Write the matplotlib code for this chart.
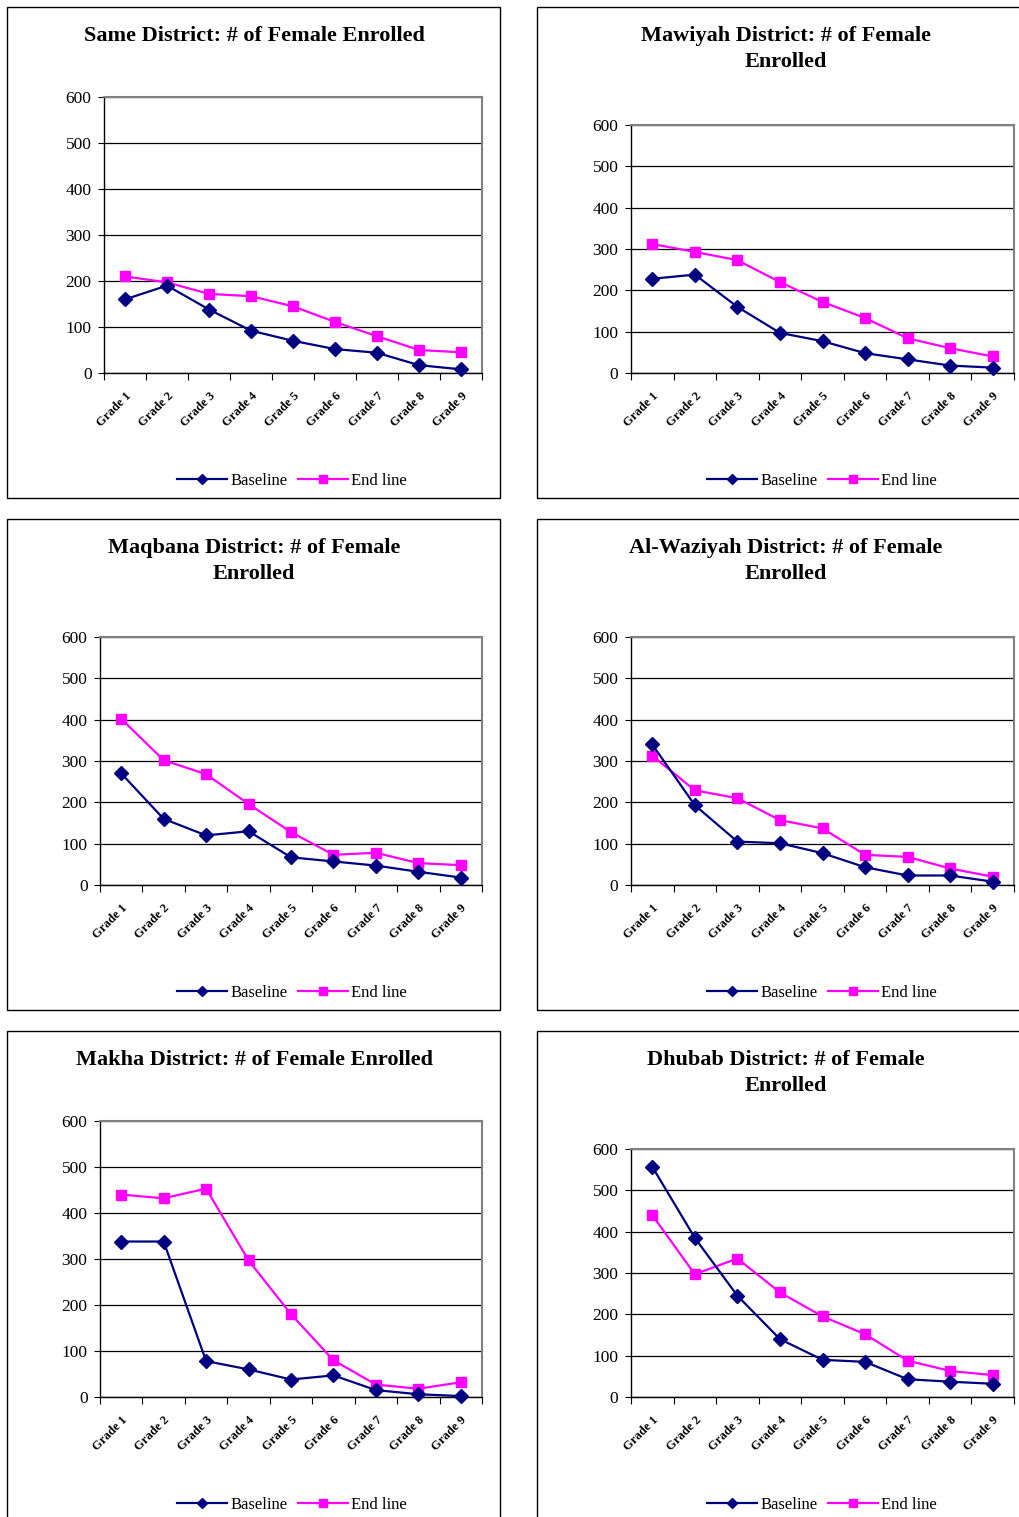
import matplotlib
matplotlib.use("Agg")
import matplotlib.pyplot as plt
from matplotlib.patches import Rectangle
import numpy as np

plt.rcParams['font.family'] = ['Liberation Serif', 'DejaVu Serif']

categories = ["Grade 1", "Grade 2", "Grade 3", "Grade 4", "Grade 5",
              "Grade 6", "Grade 7", "Grade 8", "Grade 9"]

titles = [
    "Same District: # of Female Enrolled",
    "Mawiyah District: # of Female\nEnrolled",
    "Maqbana District: # of Female\nEnrolled",
    "Al-Waziyah District: # of Female\nEnrolled",
    "Makha District: # of Female Enrolled",
    "Dhubab District: # of Female\nEnrolled",
]

same_base = [160, 190, 138, 92, 70, 52, 44, 17, 8]
same_end = [210, 197, 172, 167, 145, 111, 80, 50, 45]
mawiyah_base = [228, 238, 160, 97, 77, 48, 33, 18, 13]
mawiyah_end = [312, 293, 273, 220, 172, 133, 84, 60, 40]
maqbana_base = [270, 160, 120, 130, 67, 57, 47, 32, 18]
maqbana_end = [402, 302, 268, 196, 128, 73, 78, 53, 48]
waziyah_base = [340, 193, 105, 101, 77, 43, 23, 23, 8]
waziyah_end = [313, 229, 210, 157, 137, 73, 68, 40, 20]
makha_base = [338, 338, 78, 60, 38, 47, 15, 6, 2]
makha_end = [440, 432, 453, 297, 180, 80, 27, 18, 32]
dhubab_base = [557, 385, 245, 140, 90, 85, 43, 37, 32]
dhubab_end = [440, 297, 335, 253, 195, 152, 88, 63, 53]

series = [
    (same_base, same_end),
    (mawiyah_base, mawiyah_end),
    (maqbana_base, maqbana_end),
    (waziyah_base, waziyah_end),
    (makha_base, makha_end),
    (dhubab_base, dhubab_end),
]

W, H = 1019, 1517
fig = plt.figure(figsize=(W / 100, H / 100), dpi=100)
fig.patch.set_facecolor('white')

# panel boxes (x0, y0, x1, y1) in pixels
panels = [
    (7, 7, 500, 498),
    (537, 7, 1030, 498),
    (7, 519, 500, 1010),
    (537, 519, 1030, 1010),
    (7, 1031, 500, 1530),
    (537, 1031, 1030, 1530),
]
# plot areas (x0, y0, x1, y1)
plots = [
    (104, 97, 482, 373),
    (631, 125, 1014, 373),
    (100, 637, 482, 885),
    (631, 637, 1014, 885),
    (100, 1121, 482, 1397),
    (631, 1149, 1014, 1397),
]

def fx(x):
    return x / W

def fy(y):
    return 1 - y / H

for i in range(6):
    px0, py0, px1, py1 = panels[i]
    fig.patches.append(Rectangle((fx(px0), fy(py1)), fx(px1 - px0), (py1 - py0) / H,
                                 transform=fig.transFigure, fill=False,
                                 edgecolor='black', linewidth=1.0, zorder=0))
    tx = 254 if i % 2 == 0 else 786
    fig.text(fx(tx), fy(py0 + 19), titles[i],
             ha='center', va='top', fontsize=16, fontweight='bold',
             linespacing=1.4)

    x0, y0, x1, y1 = plots[i]
    ax = fig.add_axes([fx(x0), fy(y1), (x1 - x0) / W, (y1 - y0) / H])
    base, end = series[i]
    xs = np.arange(len(categories)) + 0.5
    ax.plot(xs, base, color='#000080', marker='D', markersize=7, linewidth=1.6,
            label='Baseline', clip_on=False, zorder=3)
    ax.plot(xs, end, color='#FF00FF', marker='s', markersize=7.5, linewidth=1.6,
            label='End line', clip_on=False, zorder=2)
    ax.set_xlim(0, 9)
    ax.set_ylim(0, 600)
    ax.set_yticks(range(0, 601, 100))
    ax.set_yticklabels([str(v) for v in range(0, 601, 100)], fontsize=12.5)
    ax.yaxis.grid(True, color='black', linewidth=0.9)
    ax.set_axisbelow(True)
    ax.set_xticks(range(0, 10))
    ax.set_xticklabels([])
    ax.set_xticks(xs, minor=True)
    ax.set_xticklabels(categories, minor=True, rotation=45, ha='right',
                       fontsize=9, fontweight='bold', rotation_mode='anchor')
    ax.tick_params(axis='x', which='minor', length=0, pad=12)
    ax.tick_params(axis='x', which='major', length=5, direction='out', color='black')
    ax.tick_params(axis='y', length=4, direction='out', pad=5)
    for s in ['top', 'right']:
        ax.spines[s].set_color('#808080')
        ax.spines[s].set_linewidth(1.5)
    for s in ['left', 'bottom']:
        ax.spines[s].set_color('black')
        ax.spines[s].set_linewidth(1.0)
    lx = 292 if i % 2 == 0 else 822
    ly = 481 + (py0 - 7)
    ax.legend(loc='center', bbox_to_anchor=(fx(lx), fy(ly)),
              bbox_transform=fig.transFigure, ncol=2, frameon=False,
              fontsize=12, handlelength=3.0, columnspacing=0.6, handletextpad=0.2,
              markerscale=0.8)

fig.savefig('out.png', dpi=100, facecolor='white')
